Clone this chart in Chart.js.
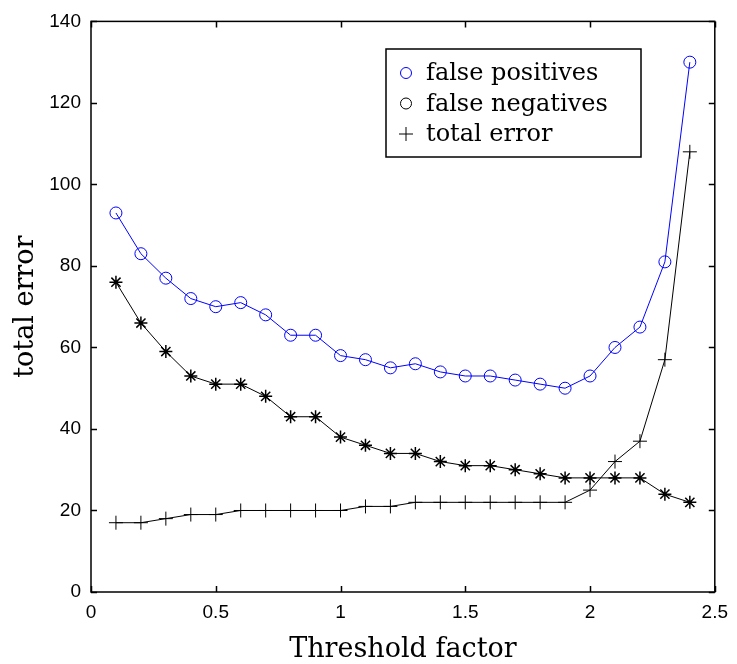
<!DOCTYPE html>
<html>
<head>
<meta charset="utf-8">
<script src="https://cdn.jsdelivr.net/npm/chart.js@4.4.0/dist/chart.umd.min.js"></script>
<style>
  html, body { margin: 0; padding: 0; background: #fff; }
  #wrap { width: 737px; height: 664px; position: relative; }
</style>
</head>
<body>
<div id="wrap"><canvas id="grafico-erro"></canvas></div>
<script>
// Threshold factor (x) and error counts for each series
const thresholds = [0.1, 0.2, 0.3, 0.4, 0.5, 0.6, 0.7, 0.8, 0.9, 1.0, 1.1, 1.2,
                    1.3, 1.4, 1.5, 1.6, 1.7, 1.8, 1.9, 2.0, 2.1, 2.2, 2.3, 2.4];
const falsePositives = [93, 83, 77, 72, 70, 71, 68, 63, 63, 58, 57, 55,
                        56, 54, 53, 53, 52, 51, 50, 53, 60, 65, 81, 130];
const falseNegatives = [76, 66, 59, 53, 51, 51, 48, 43, 43, 38, 36, 34,
                        34, 32, 31, 31, 30, 29, 28, 28, 28, 28, 24, 22];
const totalError = [17, 17, 18, 19, 19, 20, 20, 20, 20, 20, 21, 21,
                    22, 22, 22, 22, 22, 22, 22, 25, 32, 37, 57, 108];
const xTicks = [0, 0.5, 1, 1.5, 2, 2.5];
const yTicks = [0, 20, 40, 60, 80, 100, 120, 140];

const pares = (ys) => thresholds.map((x, i) => ({ x: x, y: ys[i] }));

// Box around the axes with inward tick marks on all four sides
const caixaEixos = {
  id: 'caixaEixos',
  afterDatasetsDraw(chart) {
    const { ctx, chartArea: a, scales: { x, y } } = chart;
    const len = 6;
    ctx.save();
    ctx.strokeStyle = '#000';
    ctx.lineWidth = 1.5;
    ctx.strokeRect(a.left, a.top, a.right - a.left, a.bottom - a.top);
    ctx.beginPath();
    xTicks.forEach(v => {
      const px = Math.round(x.getPixelForValue(v)) + 0.5;
      ctx.moveTo(px, a.bottom); ctx.lineTo(px, a.bottom - len);
      ctx.moveTo(px, a.top); ctx.lineTo(px, a.top + len);
    });
    yTicks.forEach(v => {
      const py = Math.round(y.getPixelForValue(v)) + 0.5;
      ctx.moveTo(a.left, py); ctx.lineTo(a.left + len, py);
      ctx.moveTo(a.right, py); ctx.lineTo(a.right - len, py);
    });
    ctx.stroke();
    ctx.restore();
  }
};

// Legend drawn inside the plot area, in a framed box
const legendaInterna = {
  id: 'legendaInterna',
  afterDraw(chart, args, opts) {
    const { ctx } = chart;
    ctx.save();
    ctx.fillStyle = '#fff';
    ctx.fillRect(opts.left, opts.top, opts.width, opts.height);
    ctx.strokeStyle = '#000';
    ctx.lineWidth = 1.5;
    ctx.strokeRect(opts.left, opts.top, opts.width, opts.height);
    ctx.font = opts.font;
    ctx.textBaseline = 'middle';
    chart.data.datasets.forEach((ds, i) => {
      const cy = opts.top + opts.firstRow + i * opts.rowGap;
      const cx = opts.left + opts.markerX;
      ctx.strokeStyle = ds.borderColor;
      ctx.lineWidth = 1;
      ctx.beginPath();
      if (ds.legendStyle === 'circle') {
        ctx.arc(cx, cy, 5.5, 0, Math.PI * 2);
      } else {
        ctx.moveTo(cx - 7, cy); ctx.lineTo(cx + 7, cy);
        ctx.moveTo(cx, cy - 7); ctx.lineTo(cx, cy + 7);
      }
      ctx.stroke();
      ctx.fillStyle = '#000';
      ctx.fillText(ds.label, opts.left + opts.textX, cy + 1);
    });
    ctx.restore();
  }
};

const serif = '"DejaVu Serif", "Liberation Serif", serif';
const sans = '"Liberation Sans", Arial, sans-serif';

new Chart(document.getElementById('grafico-erro'), {
  type: 'line',
  data: {
    datasets: [
      {
        label: 'false positives',
        data: pares(falsePositives),
        borderColor: '#0000ff',
        borderWidth: 1,
        pointStyle: 'circle',
        pointRadius: 6,
        pointBorderWidth: 1,
        pointBackgroundColor: 'rgba(0,0,0,0)',
        pointBorderColor: '#0000ff',
        legendStyle: 'circle'
      },
      {
        label: 'false negatives',
        data: pares(falseNegatives),
        borderColor: '#000',
        borderWidth: 1,
        pointStyle: 'star',
        pointRadius: 6.5,
        pointBorderWidth: 1.5,
        pointBorderColor: '#000',
        legendStyle: 'circle'
      },
      {
        label: 'total error',
        data: pares(totalError),
        borderColor: '#000',
        borderWidth: 1,
        pointStyle: 'cross',
        pointRadius: 7,
        pointBorderWidth: 1,
        pointBorderColor: '#000',
        legendStyle: 'plus'
      }
    ]
  },
  options: {
    responsive: true,
    maintainAspectRatio: false,
    animation: false,
    layout: { padding: { top: 20, right: 15, bottom: 0, left: 0 } },
    elements: { line: { tension: 0 } },
    scales: {
      x: {
        type: 'linear',
        min: 0,
        max: 2.5,
        afterFit: (s) => { s.height = 72; },
        afterBuildTicks: (s) => { s.ticks = xTicks.map(v => ({ value: v })); },
        grid: { display: false, drawTicks: false },
        border: { display: false },
        ticks: {
          color: '#000',
          padding: 9,
          font: { family: sans, size: 19 },
          callback: (v) => String(v)
        },
        title: {
          display: true,
          text: 'Threshold factor',
          color: '#000',
          font: { family: serif, size: 27, lineHeight: 1 },
          padding: { top: 0, bottom: 1 }
        }
      },
      y: {
        min: 0,
        max: 140,
        afterFit: (s) => { s.width = 91; },
        afterBuildTicks: (s) => { s.ticks = yTicks.map(v => ({ value: v })); },
        grid: { display: false, drawTicks: false },
        border: { display: false },
        ticks: {
          color: '#000',
          padding: 10,
          font: { family: sans, size: 19 }
        },
        title: {
          display: true,
          text: 'total error',
          color: '#000',
          font: { family: serif, size: 27, lineHeight: 1 },
          padding: { top: 12, bottom: 0 }
        }
      }
    },
    plugins: {
      legend: { display: false },
      tooltip: { enabled: false },
      legendaInterna: {
        left: 386, top: 49, width: 255, height: 108,
        markerX: 20, textX: 40, firstRow: 24, rowGap: 30.5,
        font: '24px ' + serif
      }
    }
  },
  plugins: [caixaEixos, legendaInterna]
});
</script>
</body>
</html>
